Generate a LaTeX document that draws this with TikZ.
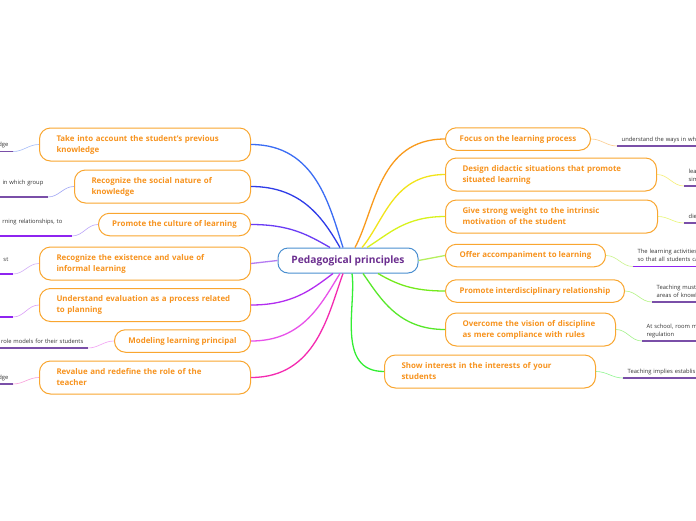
\documentclass[tikz,border=0pt]{standalone}
\usepackage{fontspec}
\setmainfont{Open Sans}
\usepackage{tikz}
\usetikzlibrary{positioning}
\definecolor{topicline}{HTML}{F9A630}
\definecolor{topictext}{HTML}{F7931E}
\definecolor{rootline}{HTML}{4A8FD0}
\definecolor{roottext}{HTML}{6B2E8F}
\definecolor{leafline}{HTML}{7A4FA8}
\definecolor{leafbright}{HTML}{8E24F0}
\definecolor{bLa}{HTML}{3A6CF4}
\definecolor{bLb}{HTML}{2F3CE8}
\definecolor{bLc}{HTML}{6A3CF5}
\definecolor{bLd}{HTML}{B57CF2}
\definecolor{bLe}{HTML}{B22CF0}
\definecolor{bLf}{HTML}{E852EA}
\definecolor{bLg}{HTML}{F42AB0}
\definecolor{bRa}{HTML}{F99A1C}
\definecolor{bRb}{HTML}{F2E41A}
\definecolor{bRc}{HTML}{D8F21D}
\definecolor{bRd}{HTML}{B5EF5C}
\definecolor{bRe}{HTML}{74EA1C}
\definecolor{bRf}{HTML}{58E82B}
\definecolor{bRg}{HTML}{33EE33}
\newcommand{\topicfont}{\fontsize{7.9}{11}\selectfont\bfseries}
\newcommand{\leaffont}{\fontsize{5.8}{8.3}\selectfont}

\begin{document}
\begin{tikzpicture}[
    x=1pt, y=1pt,
    root/.style={draw=rootline, line width=1pt, rounded corners=10pt, fill=white, text=roottext, font=\fontsize{10.2}{12}\selectfont\bfseries, minimum width=140pt, minimum height=25pt},
    topicbase/.style={draw=topicline, line width=1pt, rounded corners=11pt, fill=white, text=topictext, font=\topicfont},
    topic/.style={topicbase, align=left, text width=#1, inner xsep=17pt, minimum height=33pt},
    tag/.style={topicbase, minimum width=#1, inner xsep=10pt, minimum height=22.5pt},
    leaf/.style={font=\leaffont, text=black!80, text width=110pt, inner xsep=4.5pt, inner ysep=2pt, execute at end node=\strut},
    leftleaf/.style={leaf, align=right, anchor=south east},
    rightleaf/.style={leaf, align=left, anchor=south west},
    branch/.style={line width=1.3pt},
    twig/.style={line width=0.6pt},
    leafrule/.style={line width=1.4pt, draw=leafline},
    toleft/.style={out=#1, in=0, out looseness=0.8, in looseness=1.2},
    toright/.style={out=#1, in=180, out looseness=0.8, in looseness=1.2}
]
\fill[white] (0,0) rectangle (696,-520);
\useasboundingbox (0,0) rectangle (696,-520);

\node[root] (pedag) at (348,-260.5) {Pedagogical principles};

\node[topic=177pt, anchor=east] (prior) at (251,-144.5) {Take into account the student's previous\\knowledge};
\node[topic=142pt, anchor=east] (social) at (251,-186.5) {Recognize the social nature of\\knowledge};
\node[tag=152pt, anchor=east] (culture) at (251,-224.5) {Promote the culture of learning};
\node[topic=177pt, anchor=east] (informal) at (251,-263.5) {Recognize the existence and value of\\informal learning};
\node[topic=177pt, anchor=east] (evaluation) at (251,-305) {Understand evaluation as a process related\\to planning};
\node[tag=136pt, anchor=east] (modeling) at (251,-341) {Modeling learning principal};
\node[topic=177pt, anchor=east] (teacher) at (251,-377.5) {Revalue and redefine the role of the\\teacher};

\node[tag=145pt, anchor=west] (focus) at (445,-139) {Focus on the learning process};
\node[topic=177pt, anchor=west] (design) at (445,-174.5) {Design didactic situations that promote\\situated learning};
\node[topic=178pt, anchor=west] (motivation) at (445,-216.5) {Give strong weight to the intrinsic\\motivation of the student};
\node[tag=160pt, anchor=west] (accomp) at (445,-255.5) {Offer accompaniment to learning};
\node[tag=179pt, anchor=west] (interdisc) at (445,-291) {Promote interdisciplinary relationship};
\node[topic=136pt, anchor=west] (discipline) at (445,-329.5) {Overcome the vision of discipline\\as mere compliance with rules};
\node[topic=177pt, anchor=west] (interest) at (384,-371.5) {Show interest in the interests of your\\students};

\node[leftleaf] (priorleaf) at (13,-151.5) {dge};
\node[leftleaf] (socialleaf) at (48,-197) {in which group\\};
\node[leftleaf, inner xsep=9.5pt] (cultureleaf) at (72,-236) {rning relationships, to\\};
\node[leftleaf] (informalleaf) at (13,-274) {st\\};
\node[leftleaf] (evaluationleaf) at (13,-317) {};
\node[leftleaf] (modelingleaf) at (88,-348) {role models for their students};
\node[leftleaf] (teacherleaf) at (13,-384) {dge};

\node[rightleaf] (focusleaf) at (617,-146) {understand the ways in whi};
\node[rightleaf] (designleaf) at (684,-186) {lea\\sim};
\node[rightleaf] (motivationleaf) at (684,-223) {die};
\node[rightleaf] (accompleaf) at (633,-266.5) {The learning activities\\so that all students ca};
\node[rightleaf] (interdiscleaf) at (652,-302) {Teaching must\\areas of knowl};
\node[rightleaf] (disciplineleaf) at (642,-341) {At school, room m\\regulation};
\node[rightleaf] (interestleaf) at (623,-378) {Teaching implies establis};

\draw[branch, draw=bLa] ([xshift=-5pt]pedag.north) to[toleft=108] (prior.east);
\draw[branch, draw=bLb] ([xshift=-8pt]pedag.north) to[toleft=120] (social.east);
\draw[branch, draw=bLc] ([xshift=-18pt]pedag.north) to[toleft=150] (culture.east);
\draw[branch, draw=bLd] (pedag.west) -- (informal.east);
\draw[branch, draw=bLe] ([xshift=-15pt]pedag.south) to[toleft=-143] (evaluation.east);
\draw[branch, draw=bLf] ([xshift=-8pt]pedag.south) to[toleft=-122] (modeling.east);
\draw[branch, draw=bLg] ([xshift=-5pt]pedag.south) to[toleft=-110] (teacher.east);

\draw[branch, draw=bRa] ([xshift=7pt]pedag.north) to[toright=62] (focus.west);
\draw[branch, draw=bRb] ([xshift=14pt]pedag.north) to[toright=50] (design.west);
\draw[branch, draw=bRc] ([xshift=19pt]pedag.north) to[toright=32] (motivation.west);
\draw[branch, draw=bRd] (pedag.east) -- (accomp.west);
\draw[branch, draw=bRe] ([xshift=30pt]pedag.south) to[toright=-30] (interdisc.west);
\draw[branch, draw=bRf] ([xshift=15pt]pedag.south) to[toright=-55] (discipline.west);
\draw[branch, draw=bRg] ([xshift=4pt]pedag.south) to[toright=-82] (interest.west);

\draw[twig, draw=bLa!45] (prior.west) to[out=180, in=0] (priorleaf.south east);
\draw[twig, draw=bLb!45] (social.west) to[out=180, in=0] (socialleaf.south east);
\draw[twig, draw=bLc!45] (culture.west) to[out=180, in=0] (cultureleaf.south east);
\draw[twig, draw=bLd!60] (informal.west) to[out=180, in=0] (informalleaf.south east);
\draw[twig, draw=bLe!45] (evaluation.west) to[out=180, in=0] (evaluationleaf.south east);
\draw[twig, draw=bLf!55] (modeling.west) to[out=180, in=0] (modelingleaf.south east);
\draw[twig, draw=bLg!45] (teacher.west) to[out=180, in=0] (teacherleaf.south east);

\draw[twig, draw=bRa!50] (focus.east) to[out=0, in=180] (focusleaf.south west);
\draw[twig, draw=bRb!60] (design.east) to[out=0, in=180] (designleaf.south west);
\draw[twig, draw=bRc!60] (motivation.east) to[out=0, in=180] (motivationleaf.south west);
\draw[twig, draw=bRd!70] (accomp.east) to[out=0, in=180] (accompleaf.south west);
\draw[twig, draw=bRe!55] (interdisc.east) to[out=0, in=180] (interdiscleaf.south west);
\draw[twig, draw=bRf!55] (discipline.east) to[out=0, in=180] (disciplineleaf.south west);
\draw[twig, draw=bRg!55] (interest.east) to[out=0, in=180] (interestleaf.south west);

\draw[leafrule] (priorleaf.south west) -- (priorleaf.south east);
\draw[leafrule] (socialleaf.south west) -- (socialleaf.south east);
\draw[leafrule, draw=leafbright] (cultureleaf.south west) -- (cultureleaf.south east);
\draw[leafrule, draw=leafbright] (informalleaf.south west) -- (informalleaf.south east);
\draw[leafrule, draw=leafbright] (evaluationleaf.south west) -- (evaluationleaf.south east);
\draw[leafrule] (modelingleaf.south west) -- (modelingleaf.south east);
\draw[leafrule] (teacherleaf.south west) -- (teacherleaf.south east);
\draw[leafrule] (focusleaf.south west) -- (focusleaf.south east);
\draw[leafrule] (designleaf.south west) -- (designleaf.south east);
\draw[leafrule] (motivationleaf.south west) -- (motivationleaf.south east);
\draw[leafrule, draw=leafbright] (accompleaf.south west) -- (accompleaf.south east);
\draw[leafrule] (interdiscleaf.south west) -- (interdiscleaf.south east);
\draw[leafrule] (disciplineleaf.south west) -- (disciplineleaf.south east);
\draw[leafrule] (interestleaf.south west) -- (interestleaf.south east);
\end{tikzpicture}
\end{document}
